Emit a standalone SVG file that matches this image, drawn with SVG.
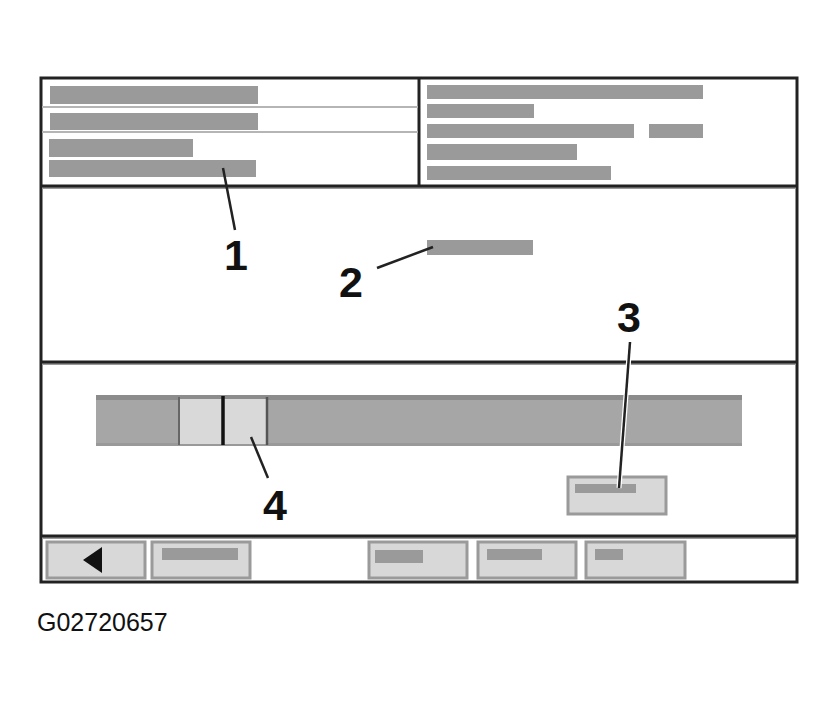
<svg xmlns="http://www.w3.org/2000/svg" width="840" height="707" viewBox="0 0 840 707">
<style>
.frame{fill:none;stroke:#222;stroke-width:3}
.div{stroke:#222;stroke-width:3}
.shadow{stroke:#9a9a9a;stroke-width:2}
.sep{stroke:#b5b5b5;stroke-width:2}
.bar{fill:#9a9a9a}
.btn{fill:#d8d8d8;stroke:#9a9a9a;stroke-width:3}
.lead{stroke:#222;stroke-width:2.5;fill:none}
.halo{stroke:#fff;stroke-width:5;fill:none}
.num{font-family:"Liberation Sans",Arial,sans-serif;font-weight:bold;font-size:43px;fill:#111;text-anchor:middle}
.cap{font-family:"Liberation Sans",Arial,sans-serif;font-size:25px;fill:#111}
</style>
<rect width="840" height="707" fill="#fff"/>
<g id="screen">
<rect class="frame" x="41" y="78" width="756" height="504"/>
<line class="shadow" x1="42" y1="188" x2="796" y2="188"/>
<line class="div" x1="41" y1="186" x2="797" y2="186"/>
<line class="div" x1="419" y1="78" x2="419" y2="186"/>
<line class="shadow" x1="42" y1="364" x2="796" y2="364"/>
<line class="div" x1="41" y1="362" x2="797" y2="362"/>
<line class="shadow" x1="42" y1="538" x2="796" y2="538"/>
<line class="div" x1="41" y1="536" x2="797" y2="536"/>
</g>
<g id="info-left">
<line class="sep" x1="42" y1="107" x2="418" y2="107"/>
<line class="sep" x1="42" y1="132" x2="418" y2="132"/>
<rect class="bar" x="50" y="86" width="208" height="18"/>
<rect class="bar" x="50" y="113" width="208" height="17"/>
<rect class="bar" x="49" y="139" width="144" height="18"/>
<rect class="bar" x="49" y="160" width="207" height="17"/>
</g>
<g id="info-right">
<rect class="bar" x="427" y="85" width="276" height="14"/>
<rect class="bar" x="427" y="104" width="107" height="14"/>
<rect class="bar" x="427" y="124" width="207" height="14"/>
<rect class="bar" x="649" y="124" width="54" height="14"/>
<rect class="bar" x="427" y="144" width="150" height="16"/>
<rect class="bar" x="427" y="166" width="184" height="14"/>
</g>
<g id="message">
<rect class="bar" x="427" y="240" width="106" height="15"/>
</g>
<g id="slider">
<rect x="96" y="395" width="646" height="51" fill="#a6a6a6"/>
<rect x="96" y="395" width="646" height="5" fill="#8c8c8c"/>
<rect x="96" y="443" width="646" height="3" fill="#999"/>
<rect x="178" y="399" width="89" height="45" fill="#d9d9d9"/>
<line x1="179" y1="397" x2="179" y2="445" stroke="#666" stroke-width="2"/>
<line x1="267" y1="397" x2="267" y2="445" stroke="#555" stroke-width="2.5"/>
<line x1="223" y1="396" x2="223" y2="445" stroke="#111" stroke-width="3.5"/>
</g>
<g id="ok-button">
<rect class="btn" x="568" y="477" width="98" height="37"/>
<rect class="bar" x="575" y="484" width="61" height="9"/>
</g>
<g id="toolbar">
<rect class="btn" x="47" y="542" width="98" height="36"/>
<polygon points="83,560 102,547 102,573" fill="#111"/>
<rect class="btn" x="152" y="542" width="98" height="36"/>
<rect class="bar" x="162" y="548" width="76" height="12"/>
<rect class="btn" x="369" y="542" width="98" height="36"/>
<rect class="bar" x="375" y="550" width="48" height="13"/>
<rect class="btn" x="478" y="542" width="98" height="36"/>
<rect class="bar" x="487" y="549" width="55" height="11"/>
<rect class="btn" x="586" y="542" width="99" height="36"/>
<rect class="bar" x="595" y="549" width="28" height="11"/>
</g>
<g id="connectors">
<line class="lead" x1="223" y1="168" x2="235" y2="230"/>
<line class="lead" x1="377" y1="268" x2="433" y2="247"/>
<line class="halo" x1="630" y1="342" x2="619" y2="488"/>
<line class="lead" x1="630" y1="342" x2="619" y2="488"/>
<line class="lead" x1="251" y1="437" x2="268" y2="478"/>
</g>
<g id="labels">
<text class="num" x="236" y="270">1</text>
<text class="num" x="351" y="297">2</text>
<text class="num" x="629" y="332">3</text>
<text class="num" x="275" y="520">4</text>
<text class="cap" x="37" y="631">G02720657</text>
</g>
</svg>
